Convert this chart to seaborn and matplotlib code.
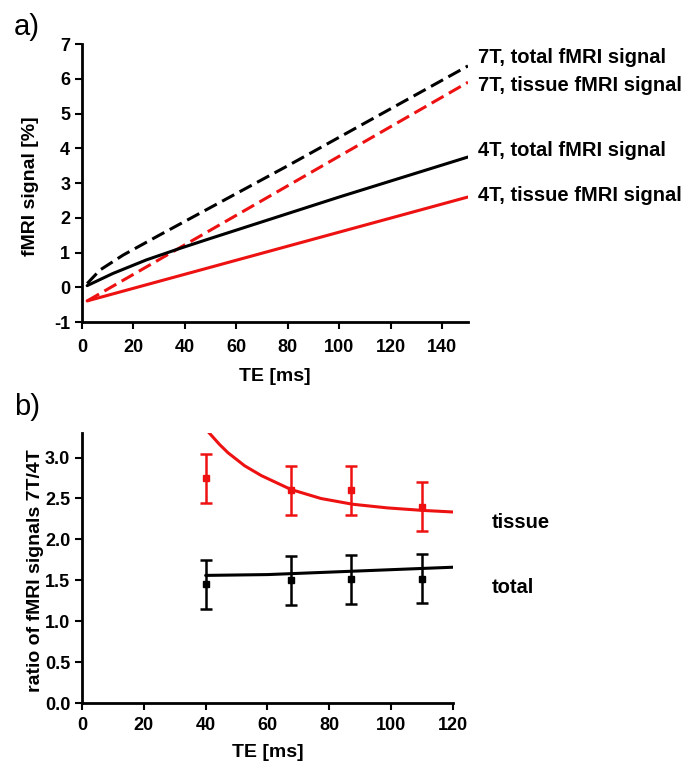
import numpy as np
import pandas as pd
import matplotlib
matplotlib.use('Agg')
import matplotlib.pyplot as plt
import seaborn as sns

# panel a: fMRI signal vs TE
te_7t_total = [2, 7, 16, 30, 80, 150]
sig_7t_total = [0.11, 0.5, 0.93, 1.50, 3.5, 6.37]
te_4t_total = [2, 12, 25, 38, 50, 100, 150]
sig_4t_total = [0.05, 0.40, 0.79, 1.12, 1.41, 2.6, 3.75]
te_lin = [2, 150]
sig_7t_tissue = [-0.39, 5.9]
sig_4t_tissue = [-0.39, 2.6]
labels_a = ['7T, total fMRI signal', '7T, tissue fMRI signal',
            '4T, total fMRI signal', '4T, tissue fMRI signal']
label_a_y = [6.6, 5.8, 3.95, 2.63]

# panel b: ratio 7T/4T
te_pts = [40, 67.5, 87, 110]
ratio_tissue = [2.75, 2.6, 2.6, 2.4]
ratio_tissue_err = [0.3, 0.3, 0.3, 0.3]
ratio_total = [1.45, 1.5, 1.51, 1.52]
ratio_total_err = [0.3, 0.3, 0.3, 0.3]
te_fit = [40.7, 44.5, 47.2, 52.6, 58, 67.6, 77.3, 87.5, 98.8, 110, 120]
fit_tissue = [3.32, 3.16, 3.06, 2.90, 2.78, 2.61, 2.50, 2.43, 2.385, 2.355, 2.335]
te_fit_total = [40, 60, 80, 100, 120]
fit_total = [1.56, 1.57, 1.60, 1.63, 1.66]

sns.set_style('ticks')
plt.rcParams['font.family'] = ['Liberation Sans', 'DejaVu Sans']
plt.rcParams['axes.unicode_minus'] = False
for k in ('text.color', 'axes.labelcolor', 'xtick.color', 'ytick.color', 'axes.edgecolor'):
    plt.rcParams[k] = 'black'

RED = '#ee1111'
fig = plt.figure(figsize=(6.88, 7.67), dpi=100)
ax1 = fig.add_axes([0.1192, 0.580, 0.561, 0.3626])
ax2 = fig.add_axes([0.1192, 0.0834, 0.5392, 0.352])

lw = 2.2
dash = (4.5, 2)
sns.lineplot(x=te_7t_total, y=sig_7t_total, ax=ax1, color='black', lw=lw)
ax1.lines[-1].set_dashes(dash)
sns.lineplot(x=te_lin, y=sig_7t_tissue, ax=ax1, color=RED, lw=lw)
ax1.lines[-1].set_dashes(dash)
sns.lineplot(x=te_4t_total, y=sig_4t_total, ax=ax1, color='black', lw=lw)
sns.lineplot(x=te_lin, y=sig_4t_tissue, ax=ax1, color=RED, lw=lw)

ax1.set_xlim(0, 150)
ax1.set_ylim(-1, 7)
ax1.set_xticks(range(0, 141, 20))
ax1.set_yticks(range(-1, 8))
ax1.set_xlabel('TE [ms]', fontweight='bold', fontsize=14, labelpad=9)
ax1.set_ylabel('fMRI signal [%]', fontweight='bold', fontsize=14)
ax1.yaxis.set_label_coords(-0.111, 0.49)

for lab, yy in zip(labels_a, label_a_y):
    ax1.text(154, yy, lab, fontsize=14.5, fontweight='bold', va='center',
             ha='left', clip_on=False)

# panel b
sns.lineplot(x=te_fit, y=fit_tissue, ax=ax2, color=RED, lw=lw)
sns.lineplot(x=te_fit_total, y=fit_total, ax=ax2, color='black', lw=lw)
ax2.errorbar(te_pts, ratio_tissue, yerr=ratio_tissue_err, fmt='s', color=RED,
             ms=5, capsize=4.5, elinewidth=1.8, capthick=1.8)
ax2.errorbar(te_pts, ratio_total, yerr=ratio_total_err, fmt='s', color='black',
             ms=5, capsize=4.5, elinewidth=1.8, capthick=1.8)
ax2.set_xlim(0, 120)
ax2.set_ylim(0, 3.3)
ax2.set_xticks(range(0, 121, 20))
ax2.set_yticks(np.arange(0, 3.01, 0.5))
ax2.set_yticklabels([f'{v:.1f}' for v in np.arange(0, 3.01, 0.5)])
ax2.set_xlabel('TE [ms]', fontweight='bold', fontsize=14, labelpad=7)
ax2.set_ylabel('ratio of fMRI signals 7T/4T', fontweight='bold', fontsize=14)
ax2.yaxis.set_label_coords(-0.102, 0.49)
ax2.text(132.6, 2.21, 'tissue', fontsize=14.5, fontweight='bold', va='center', clip_on=False)
ax2.text(132.6, 1.41, 'total', fontsize=14.5, fontweight='bold', va='center', clip_on=False)

for ax in (ax1, ax2):
    sns.despine(ax=ax)
    for s in ('left', 'bottom'):
        ax.spines[s].set_linewidth(2)
    ax.tick_params(width=1.5, length=5, labelsize=13)
    for t in ax.get_xticklabels() + ax.get_yticklabels():
        t.set_fontweight('bold')
ax1.tick_params(axis='x', pad=7)
ax2.tick_params(axis='x', pad=5)

fig.text(0.02, 0.9544, 'a)', fontsize=21, va='baseline')
fig.text(0.02, 0.459, 'b)', fontsize=21, va='baseline')

fig.savefig('out.png', dpi=100)
